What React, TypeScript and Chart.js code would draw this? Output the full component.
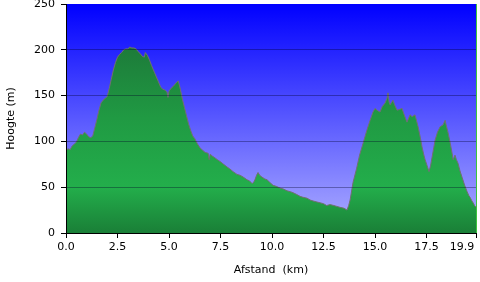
import React, { useEffect, useRef } from 'react';
import { Chart, registerables } from 'chart.js';

Chart.register(...registerables);

const distanceKm = [
  0.0, 0.1, 0.2, 0.3, 0.4, 0.5, 0.6, 0.7, 0.8, 0.9, 1.0, 1.1, 1.2, 1.3, 1.4, 1.5, 1.6, 1.7, 1.8, 1.9,
  2.0, 2.1, 2.2, 2.3, 2.4, 2.5, 2.6, 2.7, 2.8, 2.9, 3.0, 3.1, 3.2, 3.3, 3.4, 3.5, 3.6, 3.7, 3.8, 3.85,
  3.95, 4.05, 4.15, 4.3, 4.45, 4.6, 4.7, 4.8, 4.9, 4.95, 5.0, 5.1, 5.2, 5.35, 5.45, 5.55, 5.65, 5.75, 5.85, 5.95,
  6.05, 6.15, 6.25, 6.36, 6.5, 6.6, 6.75, 6.9, 6.95, 7.0, 7.1, 7.23, 7.35, 7.48, 7.65, 7.82, 7.95, 8.11, 8.3, 8.45,
  8.6, 8.79, 8.9, 9.03, 9.1, 9.17, 9.25, 9.32, 9.4, 9.51, 9.65, 9.76, 9.9, 10.05, 10.2, 10.39, 10.55, 10.73, 10.9, 11.02,
  11.2, 11.36, 11.5, 11.7, 11.85, 11.99, 12.15, 12.33, 12.5, 12.65, 12.82, 13.0, 13.15, 13.3, 13.5, 13.64, 13.72, 13.79, 13.93, 14.1,
  14.25, 14.42, 14.6, 14.76, 14.9, 15.0, 15.1, 15.24, 15.35, 15.49, 15.58, 15.63, 15.68, 15.73, 15.87, 15.95, 16.07, 16.2, 16.31, 16.4,
  16.55, 16.7, 16.8, 16.94, 17.09, 17.2, 17.28, 17.36, 17.43, 17.52, 17.62, 17.7, 17.77, 17.85, 17.91, 18.03, 18.16, 18.3, 18.4, 18.45,
  18.54, 18.65, 18.74, 18.79, 18.88, 18.95, 19.03, 19.12, 19.22, 19.35, 19.47, 19.55, 19.61, 19.7, 19.76, 19.83, 19.9,
];

const elevationM = [
  90, 92, 91, 95, 97, 99, 104, 108, 107, 110, 108, 105, 104, 106, 115, 124, 134, 142, 145, 147,
  149, 158, 168, 178, 186, 192, 195, 197, 200, 201, 201, 203, 202, 202, 201, 198, 196, 193, 192, 197,
  194, 189, 183, 175, 167, 159, 157, 156, 154, 148, 155, 158, 160, 164, 166, 157, 146, 137, 128, 119,
  112, 106, 103, 98, 93, 91, 88, 87, 80, 86, 84, 82, 80, 78, 75, 72, 70, 67, 64, 63,
  61, 58, 57, 54, 55, 58, 63, 66, 63, 61, 59, 58, 55, 52, 51, 49, 48, 46, 45, 44,
  42, 40, 39, 38, 36, 35, 34, 33, 32, 30, 31, 30, 29, 28, 27, 25, 30, 36, 55, 70,
  85, 98, 112, 123, 132, 136, 134, 132, 138, 142, 147, 153, 143, 140, 145, 140, 134, 135, 136, 130,
  121, 129, 127, 129, 116, 104, 94, 86, 80, 74, 67, 74, 83, 93, 101, 110, 116, 118, 123, 118,
  110, 98, 87, 80, 85, 80, 76, 68, 61, 52, 45, 41, 39, 35, 33, 30, 28,
];

const xTickValues = [0, 2.5, 5, 7.5, 10, 12.5, 15, 17.5, 19.9];
const yTickValues = [0, 50, 100, 150, 200, 250];

const FONT = { family: 'DejaVu Sans', size: 11 };

const backgroundPlugin = {
  id: 'plotBackground',
  beforeDraw(chart: any) {
    const { ctx, chartArea } = chart;
    if (!chartArea) return;
    const { left, top, right, bottom } = chartArea;
    const g = ctx.createLinearGradient(0, top, 0, bottom);
    g.addColorStop(0, '#0000ff');
    g.addColorStop(1, '#b0b0ff');
    ctx.save();
    ctx.fillStyle = g;
    ctx.fillRect(left, top, right - left, bottom - top);
    ctx.restore();
  },
};

export default function App() {
  const canvasRef = useRef<HTMLCanvasElement | null>(null);

  useEffect(() => {
    const canvas = canvasRef.current;
    if (!canvas) return;
    const points = distanceKm.map((x, i) => ({ x, y: elevationM[i] }));

    const chart = new Chart(canvas, {
      type: 'line',
      data: {
        datasets: [
          {
            data: points,
            borderColor: '#707070',
            borderWidth: 1,
            pointRadius: 0,
            tension: 0,
            fill: 'origin',
            backgroundColor: (c: any) => {
              const ca = c.chart.chartArea;
              if (!ca) return '#22a045';
              const g = c.chart.ctx.createLinearGradient(0, ca.top, 0, ca.bottom);
              g.addColorStop(0, '#176634');
              g.addColorStop(0.2, '#1d7c3a');
              g.addColorStop(0.5, '#209a43');
              g.addColorStop(0.8, '#23ae4b');
              g.addColorStop(1, '#1a7f37');
              return g;
            },
          },
        ],
      },
      options: {
        animation: false,
        responsive: false,
        layout: { autoPadding: false, padding: { left: 0, top: 4, right: 4, bottom: 0 } },
        plugins: { legend: { display: false }, tooltip: { enabled: false } },
        scales: {
          x: {
            type: 'linear',
            min: 0,
            max: 19.9,
            afterBuildTicks: (s: any) => {
              s.ticks = xTickValues.map((value) => ({ value }));
            },
            afterFit: (s: any) => {
              s.height = 49;
              s.paddingLeft = 0;
              s.paddingRight = 0;
            },
            grid: {
              z: 1,
              color: (c: any) => (c.tick && c.tick.value === 19.9 ? '#3cc43c' : 'rgba(0,0,0,0)'),
              tickColor: '#000',
              tickLength: 5,
            },
            border: { color: '#000', width: 1, z: 2 },
            ticks: {
              color: '#000',
              font: FONT,
              padding: 3,
              maxRotation: 0,
              autoSkip: false,
              callback: (v: any) => (Number(v) === 19.9 ? '19.9        ' : Number(v).toFixed(1)),
            },
            title: {
              display: true,
              text: 'Afstand  (km)',
              color: '#000',
              font: FONT,
              padding: { top: 0, bottom: 5 },
            },
          },
          y: {
            min: 0,
            max: 250,
            afterBuildTicks: (s: any) => {
              s.ticks = yTickValues.map((value) => ({ value }));
            },
            afterFit: (s: any) => {
              s.width = 66;
              s.paddingTop = 0;
              s.paddingBottom = 0;
            },
            grid: {
              z: 1,
              color: (c: any) =>
                c.tick && (c.tick.value === 0 || c.tick.value === 250) ? 'rgba(0,0,0,0)' : 'rgba(0,0,40,0.35)',
              tickColor: '#000',
              tickLength: 5,
            },
            border: { color: '#000', width: 1, z: 2 },
            ticks: { color: '#000', font: FONT, padding: 6 },
            title: {
              display: true,
              text: 'Hoogte (m)',
              color: '#000',
              font: FONT,
              padding: { top: 5, bottom: 0 },
            },
          },
        },
      },
      plugins: [backgroundPlugin],
    } as any);

    return () => chart.destroy();
  }, []);

  return (
    <div style={{ position: 'absolute', left: 0, top: 0, width: 480, height: 282 }}>
      <canvas ref={canvasRef} width={480} height={282} />
    </div>
  );
}
